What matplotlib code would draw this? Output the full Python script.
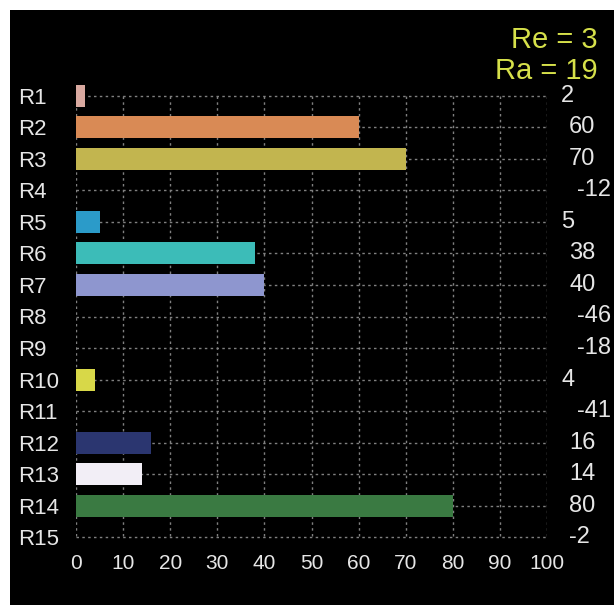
import matplotlib.pyplot as plt
from matplotlib.patches import Rectangle
from matplotlib.transforms import blended_transform_factory

categories = ["R1", "R2", "R3", "R4", "R5", "R6", "R7", "R8", "R9", "R10",
              "R11", "R12", "R13", "R14", "R15"]
values = [2, 60, 70, -12, 5, 38, 40, -46, -18, 4, -41, 16, 14, 80, -2]
colors = ["#d9a9a0", "#d98a55", "#c2b54f", "#888888", "#2b9bc9", "#3cbcb8",
          "#8e96cf", "#888888", "#888888", "#d8d848", "#888888", "#2b3670",
          "#f2eef6", "#3a7a42", "#888888"]
x_ticks = [0, 10, 20, 30, 40, 50, 60, 70, 80, 90, 100]
re_value = 3
ra_value = 19

plt.rcParams["font.family"] = ["Liberation Sans", "DejaVu Sans"]

fig = plt.figure(figsize=(6.14, 6.05), dpi=100)
fig.patch.set_facecolor("white")
# black panel, white strip on top and left
panel = Rectangle((10 / 614, 0), 1, 1 - 10 / 605, transform=fig.transFigure,
                  facecolor="black", edgecolor="none", zorder=-10)
fig.patches.append(panel)

ax = fig.add_axes([76 / 614, 52 / 605, 471 / 614, 473 / 605])
ax.set_facecolor("none")
n = len(categories)
ypos = list(range(n))

# dotted grid only between first and last row
grid_kw = dict(colors="#808080", linestyles=(0, (1.8, 2.4)), linewidth=1.0, zorder=1)
ax.vlines(x_ticks, 0, n - 1, **grid_kw)
ax.hlines(ypos, x_ticks[0], x_ticks[-1], **grid_kw)

ax.barh(ypos, values, height=0.7, color=colors, zorder=2)

ax.set_xlim(0, 100)
ax.set_ylim(n - 0.5, -0.5)
ax.set_xticks(x_ticks)
ax.set_yticks(ypos)
ax.set_yticklabels(categories)
for s in ax.spines.values():
    s.set_visible(False)
ax.tick_params(axis="both", length=0, colors="#e6e6e6")
ax.tick_params(axis="x", labelsize=15, pad=1)
ax.tick_params(axis="y", labelsize=16)
for lbl in ax.get_yticklabels():
    lbl.set_horizontalalignment("left")
    lbl.set_x(-0.1125)

# value labels on the right; longer labels sit a bit further right
trans = blended_transform_factory(ax.transAxes, ax.transData)
for y, v in zip(ypos, values):
    txt = str(v)
    xpix = 553 + 8 * len(txt)
    ax.text((xpix - 76) / 471, y, txt, transform=trans, ha="left", va="center",
            fontsize=17, color="#e6e6e6", clip_on=False)

ax.text(1.108, 1.085, f"Re = {re_value}", transform=ax.transAxes, ha="right",
        va="center", fontsize=21, color="#d6e04a")
ax.text(1.108, 1.019, f"Ra = {ra_value}", transform=ax.transAxes, ha="right",
        va="center", fontsize=21, color="#d6e04a")

fig.savefig("out.png", dpi=100, facecolor=fig.get_facecolor())
